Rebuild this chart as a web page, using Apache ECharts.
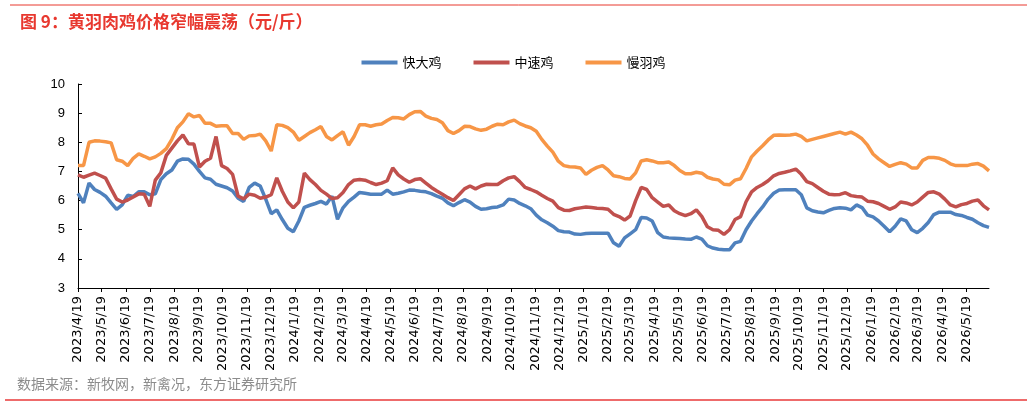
<!DOCTYPE html>
<html>
<head>
<meta charset="utf-8">
<script src="https://cdn.jsdelivr.net/npm/echarts@6/dist/echarts.min.js"></script>
<style>
  html, body { margin: 0; padding: 0; background: #fff; }
  #chart { width: 1027px; height: 407px; }
</style>
</head>
<body>
<div id="chart"></div>
<script>
// weekly observations, first week 2023/4/19
const startDate = [2023, 4, 19]
const seriesNames = ['快大鸡', '中速鸡', '慢羽鸡']

const kuaida = [
  6.25, 5.92, 6.6, 6.38, 6.28, 6.15, 5.92, 5.7, 5.85, 6.18,
  6.14, 6.3, 6.3, 6.2, 6.23, 6.72, 6.92, 7.05, 7.35, 7.43,
  7.42, 7.25, 7.0, 6.78, 6.73, 6.56, 6.5, 6.44, 6.33, 6.08,
  5.97, 6.45, 6.6, 6.5, 6.05, 5.55, 5.68, 5.35, 5.05, 4.93,
  5.3, 5.77, 5.84, 5.9, 5.97, 5.88, 6.15, 5.36, 5.75, 5.97,
  6.12, 6.28, 6.25, 6.22, 6.22, 6.22, 6.36, 6.22, 6.25, 6.3,
  6.36, 6.35, 6.32, 6.3, 6.24, 6.15, 6.08, 5.92, 5.82, 5.93,
  6.03, 5.95, 5.8, 5.7, 5.72, 5.76, 5.78, 5.85, 6.05, 6.02,
  5.9, 5.82, 5.72, 5.5, 5.34, 5.24, 5.12, 4.97, 4.93, 4.92,
  4.85, 4.84, 4.87, 4.88, 4.88, 4.88, 4.88, 4.55, 4.43, 4.72,
  4.86, 5.0, 5.42, 5.4, 5.3, 4.9, 4.75, 4.72, 4.71, 4.7,
  4.68, 4.67, 4.75, 4.68, 4.45, 4.37, 4.33, 4.31, 4.31, 4.55,
  4.6, 5.0, 5.3, 5.55, 5.78, 6.05, 6.25, 6.36, 6.37, 6.37,
  6.37, 6.2, 5.75, 5.65, 5.61, 5.58, 5.66, 5.73, 5.75, 5.74,
  5.68, 5.85, 5.76, 5.5, 5.44, 5.3, 5.12, 4.93, 5.12, 5.37,
  5.3, 5.0, 4.9, 5.05, 5.25, 5.52, 5.6, 5.6, 5.6, 5.52,
  5.49, 5.42, 5.36, 5.24, 5.14, 5.08
]

const zhongsu = [
  6.88, 6.8, 6.87, 6.94, 6.86, 6.77, 6.4, 6.05, 5.95, 6.02,
  6.12, 6.23, 6.22, 5.8, 6.7, 6.95, 7.55, 7.8, 8.05, 8.25,
  7.95, 7.94, 7.15, 7.35, 7.45, 8.2, 7.2, 7.1, 6.9, 6.15,
  6.06, 6.22, 6.18, 6.08, 6.12, 6.2, 6.78, 6.32, 5.95, 5.75,
  5.95, 6.94, 6.72, 6.55, 6.35, 6.22, 6.07, 6.1, 6.28, 6.55,
  6.7, 6.72, 6.7, 6.62, 6.55, 6.6, 6.68, 7.12, 6.88, 6.74,
  6.63, 6.72, 6.75, 6.6, 6.45, 6.33, 6.22, 6.1, 6.0, 6.2,
  6.4, 6.5, 6.4, 6.5, 6.56, 6.55, 6.55, 6.68, 6.78, 6.82,
  6.65, 6.45, 6.38, 6.3, 6.18, 6.07, 5.98, 5.76, 5.67, 5.66,
  5.72, 5.75, 5.78, 5.76, 5.74, 5.73, 5.7, 5.53, 5.45, 5.33,
  5.47, 6.0, 6.45, 6.38, 6.1, 5.95, 5.8, 5.85, 5.65, 5.55,
  5.48, 5.55, 5.68, 5.45, 5.1, 5.0, 4.98, 4.84, 5.0, 5.35,
  5.45, 5.96, 6.3, 6.45, 6.55, 6.68, 6.85, 6.93, 6.97, 7.02,
  7.08, 6.9, 6.65, 6.58, 6.45, 6.32, 6.22, 6.2, 6.21, 6.27,
  6.17, 6.14, 6.12, 5.98, 5.96, 5.9, 5.8, 5.7, 5.78, 5.95,
  5.92, 5.85, 5.95, 6.12, 6.28, 6.3, 6.22, 6.05, 5.85, 5.78,
  5.86, 5.9, 5.98, 6.02, 5.82, 5.68
]

const manyu = [
  7.2, 7.2, 8.0, 8.05, 8.04, 8.02, 7.98, 7.4, 7.35, 7.2,
  7.45, 7.6, 7.52, 7.43, 7.5, 7.62, 7.78, 8.1, 8.5, 8.7,
  8.98, 8.87, 8.92, 8.65, 8.65, 8.55, 8.57, 8.57, 8.3, 8.3,
  8.1, 8.22, 8.23, 8.28, 8.05, 7.7, 8.6, 8.58, 8.5, 8.35,
  8.07, 8.2, 8.33, 8.43, 8.54, 8.2, 8.08, 8.23, 8.36, 7.9,
  8.2, 8.6, 8.6, 8.55, 8.6, 8.63, 8.75, 8.85, 8.84, 8.8,
  8.95, 9.05, 9.06, 8.9, 8.82, 8.78, 8.67, 8.4, 8.3, 8.4,
  8.55, 8.54, 8.46, 8.41, 8.45, 8.55, 8.62, 8.6, 8.7, 8.76,
  8.64, 8.56, 8.5, 8.38, 8.1, 7.87, 7.66, 7.35, 7.2, 7.16,
  7.15, 7.12, 6.9, 7.04, 7.14, 7.2, 7.05, 6.85, 6.82, 6.76,
  6.74, 6.95, 7.36, 7.4, 7.36, 7.3, 7.3, 7.32, 7.2, 7.03,
  6.92, 6.92, 6.97, 6.94, 6.8, 6.74, 6.71, 6.56, 6.54, 6.7,
  6.75, 7.1, 7.5, 7.7, 7.88, 8.08, 8.24, 8.25, 8.24, 8.25,
  8.28, 8.2, 8.05, 8.1, 8.15, 8.2, 8.25, 8.3, 8.35, 8.28,
  8.35, 8.25, 8.12, 7.9, 7.6, 7.43, 7.3, 7.17, 7.24, 7.3,
  7.25, 7.12, 7.12, 7.38, 7.48, 7.48, 7.45, 7.38, 7.26, 7.2,
  7.2, 7.2, 7.25, 7.27, 7.18, 7.02
]

// tick labels: the 19th of every month
const tickMonths = 38

const dates = kuaida.map((_, i) => new Date(startDate[0], startDate[1] - 1, startDate[2] + 7 * i).getTime())
const monthTicks = []
for (let i = 0; i < tickMonths; i++) {
  monthTicks.push(new Date(startDate[0], startDate[1] - 1 + i, startDate[2]).getTime())
}

function fmtDate(v) {
  const d = new Date(v)
  return d.getFullYear() + '/' + (d.getMonth() + 1) + '/' + d.getDate()
}

const chart = echarts.init(document.getElementById('chart'))

const lineColors = ['#4F81BD', '#C0504D', '#F79646']

chart.setOption({
  animation: false,
  color: lineColors,
  title: {
    text: '图 9：黄羽肉鸡价格窄幅震荡（元/斤）',
    left: 15,
    top: 8,
    textStyle: {
      color: '#E8382F',
      fontSize: 17,
      fontWeight: 'bold',
      fontFamily: 'Noto Sans CJK SC',
    },
  },
  legend: {
    data: seriesNames,
    top: 51,
    left: 'center',
    icon: 'rect',
    itemWidth: 36,
    itemHeight: 4,
    itemGap: 32,
    textStyle: {
      fontSize: 13,
      color: '#000',
      fontFamily: 'Noto Sans CJK SC',
    },
  },
  grid: {
    left: 78,
    right: 38,
    top: 84,
    bottom: 119,
  },
  xAxis: {
    type: 'value',
    min: dates[0],
    max: dates[dates.length - 1],
    axisLine: { lineStyle: { color: '#000', width: 1 } },
    axisTick: {
      show: true,
      customValues: monthTicks,
      length: 4,
      lineStyle: { color: '#000' },
    },
    axisLabel: {
      customValues: monthTicks,
      rotate: 90,
      margin: 8,
      fontSize: 13,
      color: '#000',
      fontFamily: 'DejaVu Sans',
      formatter: fmtDate,
    },
    splitLine: { show: false },
  },
  yAxis: {
    type: 'value',
    min: 3,
    max: 10,
    interval: 1,
    axisLine: { show: true, lineStyle: { color: '#000', width: 1 } },
    axisTick: { show: true, inside: true, length: 4, lineStyle: { color: '#000' } },
    axisLabel: {
      fontSize: 13,
      margin: 13,
      color: '#000',
      fontFamily: 'Liberation Sans',
    },
    splitLine: { show: false },
  },
  series: [
    { name: seriesNames[0], data: dates.map((d, i) => [d, kuaida[i]]) },
    { name: seriesNames[1], data: dates.map((d, i) => [d, zhongsu[i]]) },
    { name: seriesNames[2], data: dates.map((d, i) => [d, manyu[i]]) },
  ].map(s => ({
    ...s,
    type: 'line',
    symbol: 'none',
    lineStyle: { width: 3.5 },
  })),
  graphic: [
    {
      type: 'line',
      shape: { x1: 10, y1: 5, x2: 1027, y2: 5 },
      style: { stroke: '#E8382F', lineWidth: 1 },
    },
    {
      type: 'text',
      left: 17,
      top: 377,
      style: {
        text: '数据来源：新牧网，新禽况，东方证券研究所',
        fill: '#8c8c8c',
        fontSize: 14,
        fontFamily: 'Noto Sans CJK SC',
      },
    },
    {
      type: 'line',
      shape: { x1: 5, y1: 400, x2: 1027, y2: 400 },
      style: { stroke: '#EE6B6B', lineWidth: 2 },
    },
  ],
})
</script>
</body>
</html>
